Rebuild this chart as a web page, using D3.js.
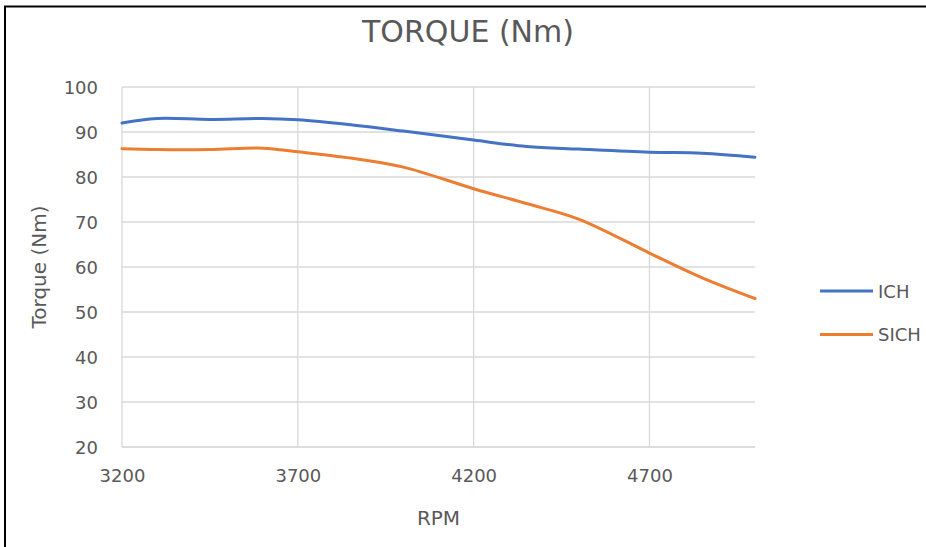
<!DOCTYPE html>
<html>
<head>
<meta charset="utf-8">
<script src="https://cdn.jsdelivr.net/npm/d3@7"></script>
<style>
    body { margin: 0; background: #fff; }
    svg { display: block; font-family: "DejaVu Sans", sans-serif; }
</style>
</head>
<body>
<div id="chart"></div>
<script>
const rpm = [3200, 3300, 3450, 3600, 3700, 3850, 4000, 4200, 4350, 4500, 4700, 4850, 5000];
const ich = [92.0, 93.0, 92.8, 93.0, 92.7, 91.6, 90.2, 88.2, 86.8, 86.2, 85.5, 85.3, 84.4];
const sich = [86.3, 86.1, 86.1, 86.4, 85.6, 84.2, 82.2, 77.4, 74.1, 70.6, 63.1, 57.6, 53.0];
const seriesNames = ["ICH", "SICH"];
const xTicks = [3200, 3700, 4200, 4700];
const yTicks = [20, 30, 40, 50, 60, 70, 80, 90, 100];

const width = 926, height = 547;
const margin = { top: 87, right: 171, bottom: 100, left: 122 };
const innerWidth = width - margin.left - margin.right;
const innerHeight = height - margin.top - margin.bottom;

const colorScale = d3.scaleOrdinal()
    .domain(seriesNames)
    .range(["#4472C4", "#ED7D31"]);

const svg = d3.select("#chart")
    .append("svg")
    .attr("width", width)
    .attr("height", height);

// frame (screenshot border on left/top)
svg.append("line")
    .attr("x1", 4).attr("x2", width).attr("y1", 6.5).attr("y2", 6.5)
    .attr("stroke", "#000").attr("stroke-width", 2);
svg.append("line")
    .attr("x1", 5).attr("x2", 5).attr("y1", 6).attr("y2", height)
    .attr("stroke", "#000").attr("stroke-width", 2);

const inner = svg.append("g")
    .attr("transform", `translate(${margin.left},${margin.top})`);

// scales
const xScale = d3.scaleLinear().domain([3200, 5000]).range([0, innerWidth]);
const yScale = d3.scaleLinear().domain([20, 100]).range([innerHeight, 0]);

// gridlines
inner.append("g")
    .selectAll("line")
    .data(yTicks)
    .join("line")
    .attr("x1", 0).attr("x2", innerWidth)
    .attr("y1", d => yScale(d)).attr("y2", d => yScale(d))
    .attr("stroke", d => d === 20 ? "#d0d0d0" : "#d9d9d9")
    .attr("stroke-width", 1.3);

inner.append("g")
    .selectAll("line")
    .data(xTicks)
    .join("line")
    .attr("x1", d => xScale(d)).attr("x2", d => xScale(d))
    .attr("y1", 0).attr("y2", innerHeight)
    .attr("stroke", "#d9d9d9")
    .attr("stroke-width", 1.3);

// tick labels
inner.append("g")
    .call(d3.axisLeft(yScale).tickValues(yTicks).tickSize(0).tickPadding(24).tickFormat(d3.format("d")))
    .call(g => g.select(".domain").remove())
    .call(g => g.selectAll("text")
        .attr("dy", "0.36em")
        .attr("fill", "#595959")
        .attr("font-size", "18px")
        .attr("font-family", "DejaVu Sans"));

inner.append("g")
    .attr("transform", `translate(0,${innerHeight})`)
    .call(d3.axisBottom(xScale).tickValues(xTicks).tickSize(0).tickPadding(22).tickFormat(d3.format("d")))
    .call(g => g.select(".domain").remove())
    .call(g => g.selectAll("text")
        .attr("fill", "#595959")
        .attr("font-size", "18px")
        .attr("font-family", "DejaVu Sans"));

// lines
const lineGen = d3.line()
    .x(d => xScale(d[0]))
    .y(d => yScale(d[1]))
    .curve(d3.curveCatmullRom.alpha(0.5));

const series = [
    { name: "ICH", values: rpm.map((r, i) => [r, ich[i]]) },
    { name: "SICH", values: rpm.map((r, i) => [r, sich[i]]) }
];

inner.selectAll("path.series")
    .data(series)
    .join("path")
    .attr("class", "series")
    .attr("d", d => lineGen(d.values))
    .attr("fill", "none")
    .attr("stroke", d => colorScale(d.name))
    .attr("stroke-width", 3)
    .attr("stroke-linecap", "round");

// title
svg.append("text")
    .attr("x", 468)
    .attr("y", 42)
    .attr("text-anchor", "middle")
    .attr("font-size", "30px")
    .attr("fill", "#595959")
    .text("TORQUE (Nm)");

// x label
svg.append("text")
    .attr("x", margin.left + innerWidth / 2)
    .attr("y", 525)
    .attr("text-anchor", "middle")
    .attr("font-size", "20px")
    .attr("fill", "#595959")
    .text("RPM");

// y label
svg.append("text")
    .attr("transform", "rotate(-90)")
    .attr("x", -267)
    .attr("y", 46)
    .attr("text-anchor", "middle")
    .attr("font-size", "20px")
    .attr("fill", "#595959")
    .text("Torque (Nm)");

// legend
const legend = svg.append("g")
    .attr("transform", "translate(820, 291)");

legend.selectAll("line")
    .data(seriesNames)
    .join("line")
    .attr("x1", 0).attr("x2", 53)
    .attr("y1", (d, i) => i * 43.5)
    .attr("y2", (d, i) => i * 43.5)
    .attr("stroke", d => colorScale(d))
    .attr("stroke-width", 3);

legend.selectAll("text")
    .data(seriesNames)
    .join("text")
    .attr("x", 58)
    .attr("y", (d, i) => i * 43.5 + 6.5)
    .attr("font-size", "18px")
    .attr("fill", "#595959")
    .text(d => d);
</script>
</body>
</html>
